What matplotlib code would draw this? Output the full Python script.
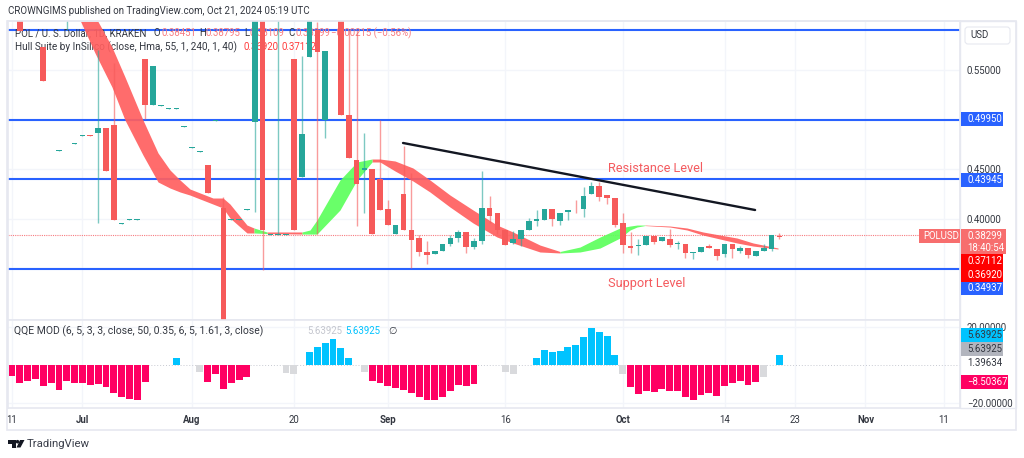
import matplotlib
matplotlib.use("Agg")
import matplotlib.pyplot as plt
import matplotlib.transforms as mtransforms
from matplotlib.patches import Rectangle, Circle, Polygon, FancyBboxPatch

plt.rcParams['font.family'] = ['Roboto', 'DejaVu Sans']

# candles, x is the bar number on the chart (sparse before September)
bar_n = [1, 4, 6, 7, 8, 9, 10, 11, 12, 13,
         14, 15, 16, 17, 18, 19, 20, 21, 22, 23,
         24, 25, 26, 27, 28, 29, 30, 31, 32, 33,
         34, 35, 36, 37, 38, 39, 40, 42, 43, 44,
         45, 46, 47, 48, 49, 50, 51, 52, 53, 54,
         55, 56, 57, 58, 59, 60, 61, 62, 63, 64,
         65, 66, 67, 68, 69, 70, 71, 72, 73, 74,
         75, 76, 77, 78, 79, 80, 81, 82, 83, 84,
         85, 86, 87, 88, 89, 90, 91, 92, 93, 94,
         95, 96, 97, 98]
bar_open = [.62, .5732, .4684, .61, .4755, .4836, .4846, .4861, .4912, .4942,
            .3944, .3985, .3985, .5611, .5145, .5140, .5109, .5109, .4927, .4714,
            .4674, .4537, .4988, .4111, .3985, .3985, .4086, .4972, .62, .3833,
            .3833, .3833, .5611, .4415, .5631, .5904, .4993, .62, .5043, .4588,
            .4486, .4496, .4395, .4101, .3848, .4243, .3889, .3808, .3666, .3645,
            .3676, .3747, .3808, .3868, .3716, .3777, .4111, .4051, .3889, .3757,
            .3797, .3889, .3970, .3980, .4101, .3970, .4061, .4091, .4101, .4243,
            .4324, .4233, .4203, .3959, .3726, .3726, .3737, .3828, .3777, .3797,
            .3747, .3747, .3656, .3666, .3726, .3696, .3645, .3747, .3676, .3706,
            .3625, .3676, .3696, .3828]
bar_high = [.62, .5732, .4694, .62, .4765, .4846, .4846, .5702, .4912, .5570,
            .3954, .3995, .3995, .5611, .5540, .5150, .5119, .5119, .4937, .4724,
            .4684, .4537, .4998, .4213, .3995, .3995, .4096, .62, .62, .3843,
            .62, .3843, .5611, .5641, .62, .5986, .5692, .62, .5904, .5904,
            .4861, .4496, .4993, .4192, .3939, .4729, .4456, .3838, .3777, .3676,
            .3747, .3838, .3889, .3868, .3808, .4476, .4223, .4051, .3889, .3878,
            .3889, .4010, .4091, .4101, .4101, .4051, .4091, .4182, .4314, .4365,
            .4365, .4233, .4203, .4051, .3868, .3797, .3828, .3828, .3818, .3899,
            .3777, .3747, .3666, .3716, .3747, .3696, .3747, .3747, .3726, .3706,
            .3676, .3747, .3838, .3858]
bar_low = [.5894, .5388, .4684, .5904, .4755, .4836, .4836, .3959, .4476, .3990,
           .3944, .3985, .3985, .5003, .5145, .5140, .5109, .5109, .4927, .4714,
           .4674, .4253, .4988, .2977, .3985, .3985, .4086, .4061, .3483, .3833,
           .3833, .3833, .3889, .4415, .5631, .3848, .4810, .5043, .4608, .3929,
           .4051, .3848, .4091, .3939, .3848, .3889, .3504, .3625, .3544, .3645,
           .3676, .3726, .3767, .3656, .3696, .3747, .3959, .3848, .3737, .3747,
           .3726, .3889, .3929, .3980, .3929, .3939, .3990, .4051, .4020, .4243,
           .4172, .4142, .3919, .3656, .3656, .3635, .3737, .3747, .3777, .3716,
           .3696, .3605, .3595, .3666, .3706, .3585, .3615, .3605, .3656, .3605,
           .3625, .3676, .3676, .3797]
bar_close = [.5894, .5388, .4694, .62, .4765, .4846, .4836, .4912, .4476, .3990,
             .3954, .3995, .3995, .5145, .5540, .5150, .5119, .5119, .4937, .4724,
             .4684, .4253, .4998, .2977, .3995, .3995, .4096, .62, .3889, .3843,
             .3843, .3843, .3889, .4851, .62, .5682, .5692, .5043, .4608, .4344,
             .4506, .3848, .4091, .3939, .3939, .3889, .3787, .3666, .3635, .3676,
             .3747, .3808, .3868, .3716, .3777, .4111, .4030, .3889, .3737, .3797,
             .3889, .3970, .4000, .4101, .4000, .4051, .4091, .4081, .4223, .4324,
             .4213, .4203, .3939, .3737, .3706, .3737, .3828, .3767, .3818, .3737,
             .3757, .3656, .3666, .3716, .3706, .3625, .3747, .3696, .3706, .3635,
             .3676, .3706, .3838, .3818]

# Hull band edges
hull_n = [7.66, 8.68, 10.6, 12.77, 14.43, 16.73, 18.65, 20.18, 21.46, 22.73,
          25.67, 26.95, 27.84, 30.01, 30.91, 32.57, 37.04, 38.06, 38.95,
          41.89, 44.06, 45.98, 47, 48.92, 51.21, 53.38, 55.94, 58.88, 61.94,
          63.98, 67.43, 69.99, 72.54, 75.1, 77.65, 78.93, 79.82, 80.84, 84.04, 86.21,
          88.25, 90.42, 92.59, 94.64, 97.83]
hull_top = [.6450, .6318, .6045, .5732, .5429, .4995, .4662, .4490, .4389, .4298,
            .4207, .4207, .4146, .3934, .3904, .3864, .3864, .3884, .3985,
            .4389, .4571, .4601, .4601, .4581, .4510, .4389, .4237, .4086, .3934,
            .3864, .3732, .3667, .3712, .3813, .3904, .3924, .3934, .3934, .3924, .3904,
            .3864, .3833, .3803, .3753, .3702]
hull_bot = [.6126, .6005, .5672, .5328, .4995, .4641, .4369, .4308, .4268, .4237,
            .4146, .4106, .4005, .3854, .3854, .3848, .3843, .3843, .3843,
            .4086, .4389, .4571, .4571, .4480, .4379, .4268, .4116, .3955, .3813,
            .3753, .3662, .3652, .3662, .3702, .3803, .3884, .3914, .3929, .3914, .3884,
            .3833, .3793, .3753, .3722, .3692]
hull_red = [(7.66, 30.91), (32.57, 37.04), (45.98, 69.99), (80.84, 97.83)]
hull_green = [(30.91, 32.57), (37.04, 45.98), (69.99, 80.84)]

# levels and drawn line
level_prices = [.59, .4995, .43945, .34937]
last_price = .38299
trend_n = [49.94, 94.9]
trend_price = [.4763, .4086]

# QQE histogram
qqe_n = [0, 1, 2, 3, 4, 5, 6, 7, 8, 9, 10, 11, 12, 13, 14, 15, 16, 17,
         21, 24, 25, 26, 27, 28, 29, 30, 35, 36,
         38, 39, 40, 41, 42, 43, 45, 46, 47, 48, 49, 50, 51, 52, 53, 54, 55, 56, 57, 58, 59,
         63, 64, 67, 68, 69, 70, 71, 72, 73, 74, 75, 76, 77, 78,
         79, 80, 81, 82, 83, 84, 85, 86, 87, 88, 89, 90, 91, 92, 93, 94, 95, 96, 98]
qqe_val = [-5.6, -9.5, -8.1, -7.0, -11.1, -9.3, -13.2, -8.1, -9.5, -9.6, -10.2, -9.8, -11.4, -14.4, -16.7, -17.9, -18.2, -8.9,
           3.9, -3.5, -8.9, -4.4, -12.3, -9.3, -7.7, -6.0, -4.0, -4.4,
           7.0, 9.8, 11.6, 13.7, 9.1, 3.9, -3.5, -8.1, -9.3, -10.7, -11.9, -12.8, -14.4, -16.7, -18.2, -18.2, -16.7, -13.7, -10.2, -11.1, -9.8,
           -3.5, -4.7, 3.7, 7.9, 6.8, 7.7, 9.5, 10.4, 14.9, 19.6, 17.5, 15.4, 5.6, -4.7,
           -11.6, -14.9, -13.7, -14.0, -12.3, -13.7, -13.7, -16.7, -18.2, -15.4, -14.7, -16.3, -10.7, -9.5, -8.1, -10.4, -8.6, -6.0, 5.64]
qqe_grey = [24, 35, 36, 45, 63, 64, 78, 96]

tick_n = [0, 9, 23, 36, 48, 63, 78, 91, 100, 109, 119]
tick_text = ['11', 'Jul', 'Aug', '20', 'Sep', '16', 'Oct', '14', '23', 'Nov', '11']
tick_bold = ['Jul', 'Aug', 'Sep', 'Oct', 'Nov']

RED = '#F65A5A'
GREEN = '#26A69A'
BLUE = '#2962FF'
PINK = '#FF0062'
SKY = '#00C3FF'
GREY = '#D9DADD'
GRID = '#F3F5FA'
EDGE = '#E6E8F0'
TEXT = '#333740'
SIZE = 6.9

W, H = 1024, 458
fig = plt.figure(figsize=(W / 100, H / 100), dpi=100)
# top-left pixel coordinates for the labels
px = mtransforms.Affine2D().scale(1 / W, -1 / H).translate(0, 1) + fig.transFigure

ax = fig.add_axes([8 / W, 1 - 320 / H, 952 / W, 299 / H])
sub = fig.add_axes([8 / W, 1 - 408 / H, 952 / W, 88 / H], sharex=ax)

fig.add_artist(Rectangle((7, 21), 1009, 409, transform=px, fill=False, edgecolor=EDGE, lw=1.2))
fig.add_artist(Rectangle((960, 21), 56, 387, transform=px, fill=False, edgecolor=EDGE, lw=1))

for a in (ax, sub):
    for s in a.spines.values():
        s.set_color(EDGE)
        s.set_linewidth(1.2)
    a.yaxis.tick_right()
    a.set_axisbelow(True)
    a.grid(True, color=GRID, lw=1)

ax.set_xlim(-0.51, 121.07)
ax.set_ylim(.2975, .5995)
ax.set_yticks([.35, .40, .45, .50, .55], ['', '0.40000', '0.45000', '', '0.55000'])
ax.tick_params(axis='y', length=0, pad=5, labelsize=SIZE, labelcolor=TEXT)
ax.tick_params(axis='x', length=0, labelbottom=False)

sub.set_ylim(-22.5, 23.8)
sub.set_yticks([-20, 20], ['\u221220.00000', '20.00000'])
sub.tick_params(axis='y', length=0, pad=5, labelsize=SIZE, labelcolor=TEXT)
sub.set_xticks(tick_n, tick_text)
sub.tick_params(axis='x', length=0, pad=5, labelsize=SIZE, labelcolor=TEXT)
for lab in sub.get_xticklabels():
    if lab.get_text() in tick_bold:
        lab.set_fontweight('bold')

# levels, price line
ax.hlines(level_prices, -0.51, 121.07, color=BLUE, lw=1.5, zorder=1.5)
ax.hlines(last_price, -0.51, 116, color='#F77C80', lw=0.8, linestyles=(0, (1, 1)), zorder=1.5)

# hull band
for start, end, col in [(s, e, '#FF5F5F') for s, e in hull_red] + [(s, e, '#5CFF5C') for s, e in hull_green]:
    keep = [i for i, n in enumerate(hull_n) if start <= n <= end]
    ax.fill_between([hull_n[i] for i in keep], [hull_top[i] for i in keep], [hull_bot[i] for i in keep],
                    color=col, lw=0, alpha=.92, zorder=2)

# candles
for n, o, h, l, c in zip(bar_n, bar_open, bar_high, bar_low, bar_close):
    col = GREEN if c >= o else RED
    ax.vlines(n, l, h, color=col, lw=1, alpha=.6, zorder=3)
    ax.bar(n, abs(c - o), bottom=min(o, c), width=.72, color=col, lw=0, zorder=4)

ax.plot(trend_n, trend_price, color='#131722', lw=1.7, zorder=5, solid_capstyle='round')

# qqe
colors = []
for n, v in zip(qqe_n, qqe_val):
    if n in qqe_grey:
        colors.append(GREY)
    else:
        colors.append(SKY if v > 0 else PINK)
sub.bar(qqe_n, qqe_val, width=.88, color=colors, lw=0, zorder=3)
sub.axhline(0, color='#C8CAD2', lw=.7, ls=(0, (1, 2)), zorder=2)


def label(x, y, s, color=TEXT, size=SIZE, ha='left', target=fig, **kw):
    target.text(x, y, s, color=color, fontsize=size, ha=ha, va='center', transform=px, **kw)


def box(x, y, w, h, color):
    fig.add_artist(Rectangle((x, y), w, h, transform=px, color=color, lw=0, zorder=6))


label(8, 11, 'CROWNGIMS published on TradingView.com, Oct 21, 2024 05:19 UTC', size=7.0)

# legends sit under the candles
leg_red = '#F77C80'
label(15, 33, 'POL / U. S. Dollar, 1D, KRAKEN', target=ax, zorder=1.8, size=7.0)
for x, s, col in [(153, 'O', TEXT), (161, '0.38451', leg_red), (199, 'H', TEXT), (206, '0.38795', leg_red),
                  (244, 'L', TEXT), (250, '0.38109', leg_red), (288, 'C', TEXT), (295, '0.38299', leg_red),
                  (331, '\u22120.00215 (\u22120.56%)', leg_red)]:
    label(x, 33, s, color=col, target=ax, zorder=1.8)
label(15, 47, 'Hull Suite by InSilico (close, Hma, 55, 1, 240, 1, 40)', target=ax, zorder=1.8, size=7.2)
label(244, 47, '0.36920', color='#FF3B3B', target=ax, zorder=1.8)
label(282, 47, '0.37112', color='#FF3B3B', target=ax, zorder=1.8)
label(14, 331, 'QQE MOD (6, 5, 3, 3, close, 50, 0.35, 6, 5, 1.61, 3, close)', size=7.45)
label(307, 331, '5.63925', color='#C4C6CE')
label(345, 331, '5.63925', color=SKY)
label(388, 331, '\u2205')

label(608, 168, 'Resistance Level', color='#F45B5F', size=9.2, target=ax, zorder=6)
label(608, 283, 'Support Level', color='#F45B5F', size=9.2, target=ax, zorder=6)

# right scale
fig.add_artist(FancyBboxPatch((965, 27), 45, 17, boxstyle='round,pad=0,rounding_size=3', transform=px,
                              facecolor='white', edgecolor=EDGE, lw=.8))
label(970, 35, 'USD')
for y, s in [(119, '0.49950'), (180, '0.43945'), (288, '0.34937')]:
    box(961, y - 7, 42, 14, BLUE)
    fig.text(967, y, s, color='white', fontsize=SIZE, va='center', transform=px, zorder=7)
box(919, 229, 41, 14, '#F76E6E')
fig.text(923, 236, 'POLUSD', color='white', fontsize=SIZE, va='center', transform=px, zorder=7)
box(961, 229, 45, 25, '#F76E6E')
fig.text(967, 236, '0.38299', color='white', fontsize=SIZE, va='center', transform=px, zorder=7)
fig.text(967, 248, '18:40:54', color='white', fontsize=SIZE, va='center', transform=px, zorder=7)
box(961, 254, 42, 14, '#FF0000')
box(961, 268, 42, 14, '#FF0000')
fig.text(967, 261, '0.37112', color='white', fontsize=SIZE, va='center', transform=px, zorder=7)
fig.text(967, 274.5, '0.36920', color='white', fontsize=SIZE, va='center', transform=px, zorder=7)

box(961, 328, 42, 14, SKY)
box(961, 342, 42, 14, '#B2B5BE')
fig.text(967, 335, '5.63925', color=TEXT, fontsize=SIZE, va='center', transform=px, zorder=7)
fig.text(967, 349, '5.63925', color=TEXT, fontsize=SIZE, va='center', transform=px, zorder=7)
label(967, 363, '1.39634')
box(961, 375, 47, 14, PINK)
fig.text(967, 382, '\u22128.50367', color='white', fontsize=SIZE, va='center', transform=px, zorder=7)

# logo
logo = '#131722'
fig.add_artist(Rectangle((8, 440), 8, 3.5, transform=px, color=logo, lw=0))
fig.add_artist(Rectangle((11.5, 440), 4.5, 7.5, transform=px, color=logo, lw=0))
fig.add_artist(Circle((17.5, 441.7), 1.8, transform=px, color=logo, lw=0))
fig.add_artist(Polygon([(20, 440), (24.5, 440), (20.5, 447.5), (16.5, 447.5)], transform=px, color=logo, lw=0))
label(27, 444, 'TradingView', size=8.2, color='#3A3E4A')

fig.savefig('out.png', dpi=100)
